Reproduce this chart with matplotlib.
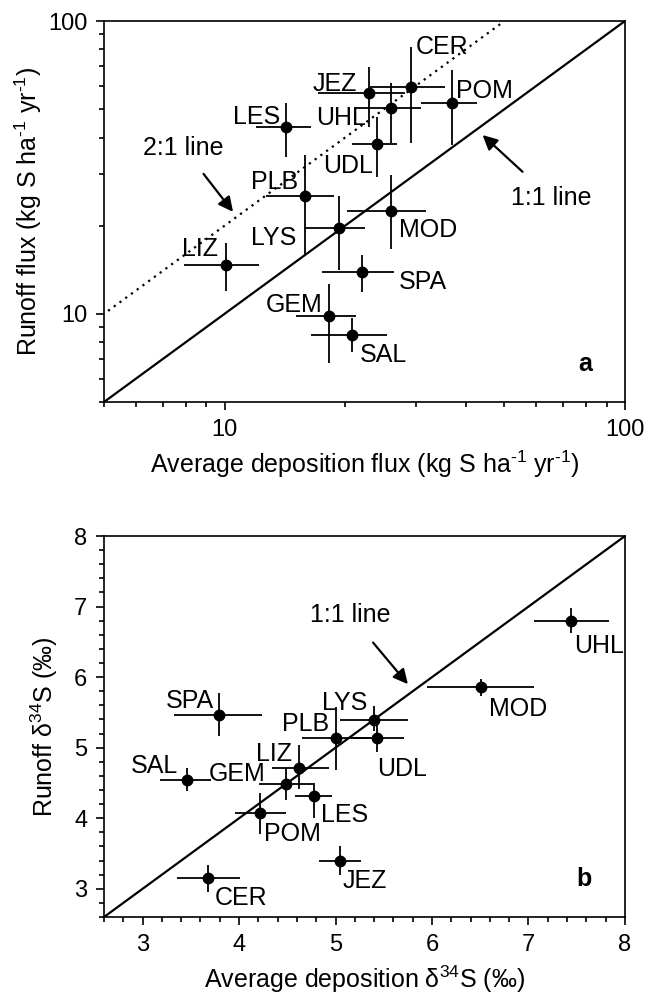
import numpy as np
import matplotlib
matplotlib.use('Agg')
import matplotlib.pyplot as plt
from matplotlib.ticker import FixedLocator, NullFormatter, MultipleLocator

plt.rcParams['font.family'] = ['Liberation Sans', 'DejaVu Sans']
plt.rcParams['mathtext.fontset'] = 'custom'
plt.rcParams['mathtext.rm'] = 'Liberation Sans'
plt.rcParams['mathtext.it'] = 'Liberation Sans'

# --- panel a: fluxes (kg S ha-1 yr-1) ---
sites_a = ['CER', 'JEZ', 'UHL', 'POM', 'LES', 'UDL', 'PLB', 'LYS', 'MOD', 'SPA', 'LIZ', 'GEM', 'SAL']
dep_a = [29.3, 22.9, 26.1, 37.0, 14.2, 24.0, 15.9, 19.3, 26.1, 22.0, 10.1, 18.2, 20.8]
dep_a_lo = [23.1, 17.1, 21.3, 30.9, 12.0, 20.8, 12.7, 15.9, 20.2, 17.5, 7.9, 15.1, 16.4]
dep_a_hi = [35.6, 28.3, 30.9, 42.8, 16.4, 27.0, 18.8, 22.4, 31.8, 26.5, 12.2, 21.3, 25.4]
run_a = [59.7, 56.6, 50.3, 52.6, 43.6, 38.0, 25.2, 19.7, 22.5, 13.9, 14.7, 9.8, 8.5]
run_a_lo = [38.2, 43.6, 38.2, 37.7, 34.4, 29.4, 15.9, 14.1, 16.6, 11.9, 12.0, 6.8, 7.4]
run_a_hi = [81.7, 69.8, 61.3, 68.0, 52.4, 47.1, 34.9, 25.3, 29.7, 15.9, 17.5, 12.6, 9.7]

# --- panel b: d34S (permil) ---
sites_b = ['UHL', 'MOD', 'SPA', 'LYS', 'PLB', 'UDL', 'LIZ', 'GEM', 'SAL', 'LES', 'POM', 'JEZ', 'CER']
dep_b = [7.44, 6.51, 3.79, 5.40, 5.00, 5.43, 4.62, 4.49, 3.46, 4.78, 4.22, 5.05, 3.68]
dep_b_lo = [7.06, 5.95, 3.33, 5.05, 4.65, 5.17, 4.34, 4.21, 3.18, 4.58, 3.96, 4.83, 3.36]
dep_b_hi = [7.83, 7.06, 4.24, 5.75, 5.36, 5.71, 4.93, 4.77, 3.71, 4.96, 4.49, 5.26, 4.01]
run_b = [6.80, 5.86, 5.47, 5.39, 5.14, 5.14, 4.71, 4.49, 4.54, 4.31, 4.08, 3.40, 3.15]
run_b_lo = [6.62, 5.73, 5.16, 5.23, 4.68, 4.94, 4.42, 4.26, 4.39, 4.00, 3.78, 3.20, 2.96]
run_b_hi = [6.98, 5.97, 5.77, 5.59, 5.58, 5.34, 5.04, 4.71, 4.71, 4.50, 4.36, 3.60, 3.34]

range_a = [5, 100]
range_b = [2.6, 8]

# label placement (pixel offsets from point, alignment)
lab_a = {'CER': (4, 42, 'left'), 'JEZ': (-12, 12, 'right'), 'UHL': (-25, -7, 'right'),
         'POM': (4, 14, 'left'), 'LES': (-5, 12, 'right'), 'UDL': (-4, -19, 'right'),
         'PLB': (-7, 17, 'right'), 'LYS': (-43, -8, 'right'), 'MOD': (8, -17, 'left'),
         'SPA': (37, -8, 'left'), 'LIZ': (-8, 18, 'right'), 'GEM': (-6, 14, 'right'),
         'SAL': (8, -18, 'left')}
lab_b = {'UHL': (3, -23, 'left'), 'MOD': (8, -19, 'left'), 'SPA': (-5, 16, 'right'),
         'LYS': (-7, 20, 'right'), 'PLB': (-6, 16, 'right'), 'UDL': (0, -29, 'left'),
         'LIZ': (-7, 17, 'right'), 'GEM': (-21, 12, 'right'), 'SAL': (-9, 17, 'right'),
         'LES': (7, -16, 'left'), 'POM': (4, -19, 'left'), 'JEZ': (2, -18, 'left'),
         'CER': (7, -17, 'left')}

FS = 18
TICK_FS = 17


def draw_points(ax, x, xlo, xhi, y, ylo, yhi, names, offsets):
    x = np.array(x); y = np.array(y)
    xerr = [x - np.array(xlo), np.array(xhi) - x]
    yerr = [y - np.array(ylo), np.array(yhi) - y]
    ax.errorbar(x, y, xerr=xerr, yerr=yerr, fmt='o', color='black', ms=7.5,
                elinewidth=1.3, capsize=0, zorder=3)
    for xi, yi, nm in zip(x, y, names):
        dx, dy, ha = offsets[nm]
        ax.annotate(nm, (xi, yi), xytext=(dx, dy), textcoords='offset pixels',
                    ha=ha, va='center_baseline', fontsize=FS)


def style_axes(ax):
    for sp in ax.spines.values():
        sp.set_linewidth(1.2)
    ax.tick_params(which='both', direction='out', top=False, right=False,
                   labelsize=TICK_FS, width=1.2)
    ax.tick_params(which='major', length=6, pad=6)
    ax.tick_params(which='minor', length=3.5)


fig = plt.figure(figsize=(6.5, 10.01), dpi=100)
ax1 = fig.add_axes([0.16, 0.5984, 0.8015, 0.3806])
ax2 = fig.add_axes([0.16, 0.0839, 0.8015, 0.3806])

# panel a
ax1.set_xscale('log')
ax1.set_yscale('log')
xs = np.array(range_a)
ax1.plot(xs, xs, color='black', lw=1.6, zorder=2)
ax1.plot(xs / 2, xs, color='black', lw=1.6, ls=(0, (1, 2.2)), zorder=2)
draw_points(ax1, dep_a, dep_a_lo, dep_a_hi, run_a, run_a_lo, run_a_hi, sites_a, lab_a)
ax1.set_xlim(range_a)
ax1.set_ylim(range_a)
for axis in (ax1.xaxis, ax1.yaxis):
    axis.set_major_locator(FixedLocator([10, 100]))
    axis.set_minor_locator(FixedLocator([5, 6, 7, 8, 9, 20, 30, 40, 50, 60, 70, 80, 90]))
    axis.set_minor_formatter(NullFormatter())
    axis.set_major_formatter(plt.FuncFormatter(lambda v, p: f'{v:g}'))
style_axes(ax1)
unit = r'(kg S ha$^{\text{-1}}$ yr$^{\text{-1}}$)'
ax1.set_xlabel('Average deposition flux ' + unit, fontsize=FS, labelpad=6)
ax1.set_ylabel('Runoff flux ' + unit, fontsize=FS, labelpad=3)
arrow = dict(arrowstyle='-|>', color='black', lw=1.6, mutation_scale=22)
ax1.annotate('2:1 line', xy=(10.5, 22.3), xytext=(7.9, 36.8), fontsize=FS,
             ha='center', va='center', arrowprops=dict(arrow, shrinkA=10, shrinkB=0))
ax1.annotate('1:1 line', xy=(44.1, 40.8), xytext=(65.3, 24.9), fontsize=FS,
             ha='center', va='center', arrowprops=dict(arrow, shrinkA=12, shrinkB=0))
ax1.text(0.923, 0.10, 'a', transform=ax1.transAxes, fontsize=FS, fontweight='bold',
         ha='center', va='center')

# panel b
xs = np.array(range_b)
ax2.plot(xs, xs, color='black', lw=1.6, zorder=2)
draw_points(ax2, dep_b, dep_b_lo, dep_b_hi, run_b, run_b_lo, run_b_hi, sites_b, lab_b)
ax2.set_xlim(range_b)
ax2.set_ylim(range_b)
for axis in (ax2.xaxis, ax2.yaxis):
    axis.set_major_locator(MultipleLocator(1))
    axis.set_minor_locator(MultipleLocator(0.2))
style_axes(ax2)
ax2.set_xlabel('Average deposition δ$^{34}$S (‰)', fontsize=FS, labelpad=6)
ax2.set_ylabel('Runoff δ$^{34}$S (‰)', fontsize=FS, labelpad=10)
ax2.annotate('1:1 line', xy=(5.75, 5.90), xytext=(5.15, 6.88), fontsize=FS,
             ha='center', va='center', arrowprops=dict(arrow, shrinkA=12, shrinkB=0))
ax2.text(0.922, 0.10, 'b', transform=ax2.transAxes, fontsize=FS, fontweight='bold',
         ha='center', va='center')

fig.savefig('out.png', dpi=100)
